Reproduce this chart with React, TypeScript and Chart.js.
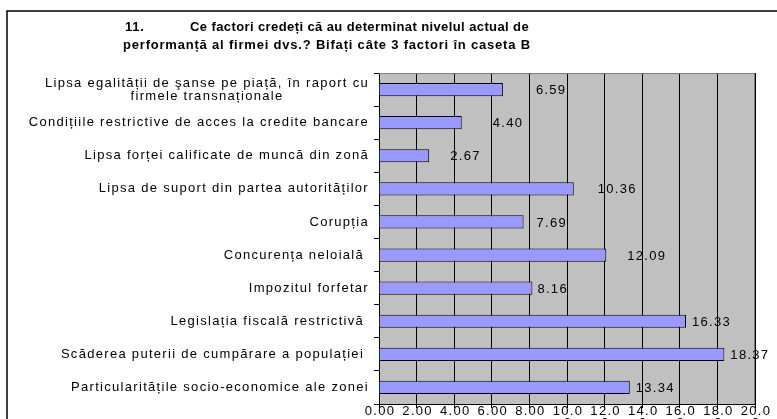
import React, { useEffect, useRef } from "react";
import { Chart, registerables } from "chart.js";

Chart.register(...registerables);

const titleNumber = "11.";
const titleLines = [
  "Ce factori credeți că au determinat nivelul actual de",
  "performanță al firmei dvs.? Bifați câte 3 factori în caseta B",
];

const categories: string[][] = [
  ["Lipsa egalității de şanse pe piață, în raport cu", "firmele transnaționale"],
  ["Condițiile restrictive de acces la credite bancare"],
  ["Lipsa forței calificate de muncă din zonă"],
  ["Lipsa de suport din partea autorităților"],
  ["Corupția"],
  ["Concurența neloială "],
  ["Impozitul forfetar"],
  ["Legislația fiscală restrictivă "],
  ["Scăderea puterii de cumpărare a populației "],
  ["Particularitățile socio-economice ale zonei"],
];

const values = [6.59, 4.4, 2.67, 10.36, 7.69, 12.09, 8.16, 16.33, 18.37, 13.34];

const valueLabels = ["6.59", "4.40", "2.67", "10.36", "7.69", "12.09", "8.16", "16.33", "18.37", "13.34"];

const xTickLabels = [
  ["0.00"], ["2.00"], ["4.00"], ["6.00"], ["8.00"],
  ["10.0", "0"], ["12.0", "0"], ["14.0", "0"], ["16.0", "0"], ["18.0", "0"], ["20.0", "0"],
];

const FONT = "'Liberation Sans', Arial, sans-serif";

export default function App() {
  const ref = useRef<HTMLCanvasElement | null>(null);

  useEffect(() => {
    const canvas = ref.current!;
    const labelGap = [33, 31, 21, 24, 13, 21, 5, 6, 6, 6];

    const decor = {
      id: "decor",
      beforeDraw(chart: any) {
        const { ctx, chartArea: a } = chart;
        ctx.save();
        ctx.fillStyle = "#ffffff";
        ctx.fillRect(0, 0, chart.width, chart.height);
        ctx.fillStyle = "#c0c0c0";
        ctx.fillRect(a.left, a.top, a.right - a.left, a.bottom - a.top);
        ctx.strokeStyle = "#000";
        ctx.lineWidth = 1.5;
        ctx.beginPath();
        ctx.moveTo(7, chart.height + 5);
        ctx.lineTo(7, 11);
        ctx.lineTo(chart.width + 5, 11);
        ctx.stroke();
        ctx.restore();
      },
      afterDraw(chart: any) {
        const { ctx, chartArea: a } = chart;
        const xs = chart.scales.x;
        const ys = chart.scales.y;
        ctx.save();
        // gray top/right border of plot area
        ctx.strokeStyle = "#808080";
        ctx.lineWidth = 1;
        ctx.beginPath();
        ctx.moveTo(a.left, a.top + 0.5);
        ctx.lineTo(a.right - 0.5, a.top + 0.5);
        ctx.lineTo(a.right - 0.5, a.bottom);
        ctx.stroke();

        // title
        ctx.fillStyle = "#000";
        ctx.font = `bold 13px ${FONT}`;
        ctx.textBaseline = "middle";
        ctx.textAlign = "left";
        (ctx as any).letterSpacing = "0.8px";
        ctx.fillText(titleNumber, 125, 27);
        (ctx as any).letterSpacing = "0.4px";
        ctx.fillText(titleLines[0], 190, 27);
        (ctx as any).letterSpacing = "0.8px";
        ctx.fillText(titleLines[1], 123, 45);

        // category labels
        ctx.font = `13px ${FONT}`;
        (ctx as any).letterSpacing = "1.3px";
        categories.forEach((lines, i) => {
          const y = ys.getPixelForValue(i);
          const widths = lines.map((l) => ctx.measureText(l).width);
          const maxW = Math.max(...widths);
          const cx = a.left - 10 - maxW / 2;
          const lh = 13;
          const y0 = y - ((lines.length - 1) * lh) / 2;
          ctx.textAlign = "center";
          lines.forEach((l, k) => ctx.fillText(l, cx, y0 + k * lh));
        });

        // value labels
        ctx.textAlign = "left";
        values.forEach((v, i) => {
          const x = xs.getPixelForValue(v) + labelGap[i];
          const y = ys.getPixelForValue(i) + 1;
          ctx.fillText(valueLabels[i], x, y);
        });

        // x tick labels
        ctx.textAlign = "center";
        xs.ticks.forEach((t: any, i: number) => {
          const x = xs.getPixelForValue(t.value) + 1;
          const lines = xTickLabels[i] || [];
          lines.forEach((l, k) => ctx.fillText(l, x, 411 + k * 12));
        });
        ctx.restore();
      },
    };

    const chart = new Chart(canvas, {
      type: "bar",
      data: {
        labels: categories.map((c) => c.join(" ")),
        datasets: [
          {
            data: values,
            backgroundColor: "#9999ff",
            borderColor: "#000000",
            borderWidth: 1,
            barPercentage: 0.4,
            categoryPercentage: 1,
          },
        ],
      },
      options: {
        indexAxis: "y",
        responsive: false,
        animation: false,
        layout: { padding: { top: 73, right: 22, left: 0, bottom: 0 } },
        plugins: {
          legend: { display: false },
          title: { display: false },
          tooltip: { enabled: false },
        },
        scales: {
          x: {
            min: 0,
            max: 20,
            ticks: { stepSize: 2, display: false },
            grid: { color: "#000", lineWidth: 1, tickLength: 4, drawTicks: true },
            border: { color: "#000", width: 1 },
            afterFit(scale: any) {
              scale.height = 15;
            },
          },
          y: {
            ticks: { display: false },
            grid: { drawOnChartArea: false, drawTicks: true, tickLength: 5, color: "#000", offset: true },
            border: { color: "#000", width: 1 },
            afterFit(scale: any) {
              scale.width = 379;
            },
          },
        },
      },
      plugins: [decor],
    });
    return () => chart.destroy();
  }, []);

  return (
    <canvas
      ref={ref}
      width={777}
      height={419}
      style={{ position: "fixed", left: 0, top: 0, width: 777, height: 419 }}
    />
  );
}
